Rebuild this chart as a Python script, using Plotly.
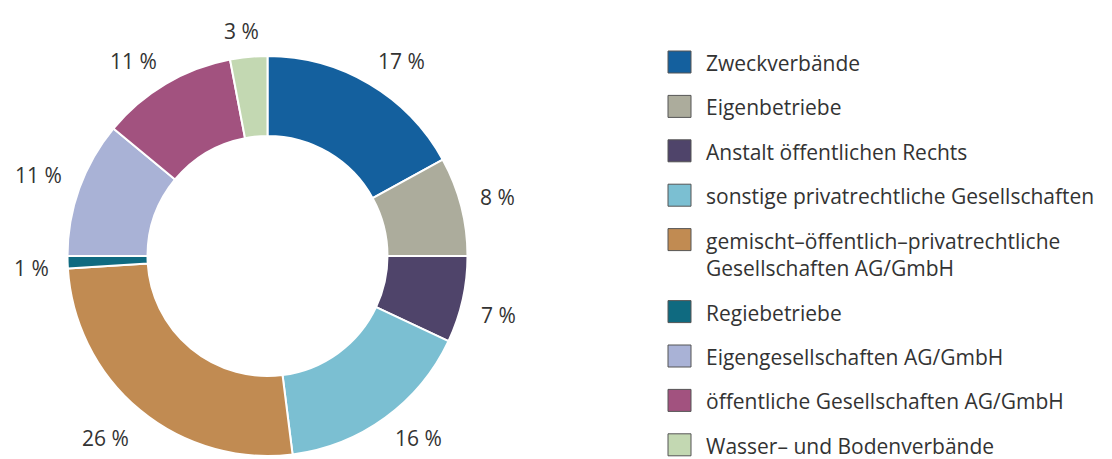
import math
import plotly.graph_objects as go

# ---------------- Daten ----------------
labels = [
    "Zweckverbände",
    "Eigenbetriebe",
    "Anstalt öffentlichen Rechts",
    "sonstige privatrechtliche Gesellschaften",
    "gemischt–öffentlich–privatrechtliche<br>Gesellschaften AG/GmbH",
    "Regiebetriebe",
    "Eigengesellschaften AG/GmbH",
    "öffentliche Gesellschaften AG/GmbH",
    "Wasser– und Bodenverbände",
]
anteile = [17, 8, 7, 16, 26, 1, 11, 11, 3]
farben = ["#14609e", "#acac9c", "#4f446a", "#7bbfd2", "#c18b52",
          "#0f6a80", "#a9b2d6", "#a2527f", "#c3d8b2"]

W, H = 1112, 459
OFF = 8  # body-Rand der html-Seite
txtcolor = "#333333"
fontname = "Open Sans"


def px(x):
    return (x - OFF) / W


def py(y):
    return 1 - (y - OFF) / H


def clamp(a):
    return max(-1.0, min(1.0, a))


# Mittelpunkt und Radius des Rings (Bildpixel)
cx, cy, r = 267.5, 256, 200

fig = go.Figure()
fig.add_trace(go.Pie(
    labels=labels, values=anteile, sort=False, direction="clockwise", rotation=0,
    hole=0.6,
    marker=dict(colors=farben, line=dict(color="white", width=2)),
    textinfo="none", hoverinfo="label+percent",
    domain=dict(x=[px(cx - r), px(cx + r)], y=[py(cy + r), py(cy - r)]),
    showlegend=False,
))

annots = []
# Prozentwerte aussen am Ring: Textbox liegt mit ihrer Ecke/Kante am Radius 220
summe = sum(anteile)
kum = 0
for v in anteile:
    w = 2 * math.pi * (kum + v / 2) / summe
    kum += v
    txt = f"{v} %"
    ux, uy = math.sin(w), -math.cos(w)
    hw, hh = 5.5 * len(txt), 10
    lx = cx + 220 * ux + hw * clamp(ux / 0.3)
    ly = cy + 220 * uy + hh * clamp(uy / 0.3) + 4
    ly = min(max(ly, 27), 438)
    annots.append(dict(xref="paper", yref="paper", x=px(lx), y=py(ly),
                       xanchor="center", yanchor="middle", showarrow=False,
                       text=txt, font=dict(size=21, color=txtcolor, family=fontname)))

# Legende von Hand (Quadrat + Text)
shapes = []
y = 62
for lab, col in zip(labels, farben):
    zeilen = lab.count("<br>") + 1
    shapes.append(dict(type="rect", xref="paper", yref="paper",
                       x0=px(668), x1=px(691), y0=py(y + 11), y1=py(y - 11),
                       fillcolor=col, line=dict(color="#555555", width=1)))
    annots.append(dict(xref="paper", yref="paper", x=px(705), y=py(y - 14),
                       xanchor="left", yanchor="top", align="left", showarrow=False,
                       borderpad=0,
                       text=lab, font=dict(size=21, color=txtcolor, family=fontname)))
    y += 44.4 + 27.6 * (zeilen - 1)

fig.update_layout(width=W, height=H, margin=dict(l=0, r=0, t=0, b=0),
                  paper_bgcolor="white", plot_bgcolor="white",
                  shapes=shapes, annotations=annots)
fig.write_html("out.html")
